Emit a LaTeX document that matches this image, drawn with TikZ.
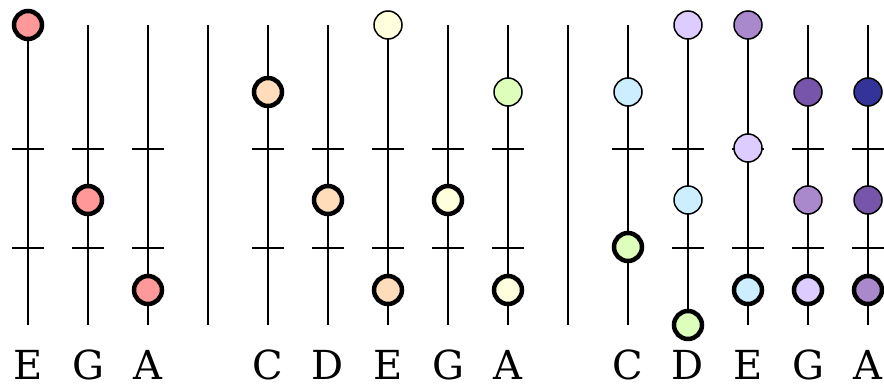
\documentclass[tikz,border=0pt]{standalone}
\usepackage{fontspec}
\setmainfont{DejaVu Serif}
\usepackage{tikz}
\usetikzlibrary{positioning, calc}

\definecolor{cRed}{HTML}{FF9999}
\definecolor{cPeach}{HTML}{FFDDBB}
\definecolor{cCream}{HTML}{FFFFDD}
\definecolor{cLime}{HTML}{DDFFBB}
\definecolor{cSky}{HTML}{CCEEFF}
\definecolor{cLilac}{HTML}{DDCCFF}
\definecolor{cMauve}{HTML}{AA88CC}
\definecolor{cPurple}{HTML}{7755AA}
\definecolor{cNavy}{HTML}{333399}

\tikzset{
  string/.style={line width=2pt},
  fret/.style={line width=2pt},
  dot/.style={draw, circle, line width=1.5pt, minimum size=28pt, inner sep=0pt},
  root/.style={dot, line width=4.5pt},
  lbl/.style={inner sep=0pt, font=\fontsize{40}{40}\selectfont}
}

\begin{document}
\begin{tikzpicture}[x=1pt, y=-1pt]
  \useasboundingbox (0,0) rectangle (884,385);
  % string ends
  \coordinate (s1t) at (28,25);   \coordinate (s1b) at (28,325);
  \coordinate (s2t) at (88,25);   \coordinate (s2b) at (88,325);
  \coordinate (s3t) at (148,25);  \coordinate (s3b) at (148,325);
  \coordinate (bar1t) at (208,25); \coordinate (bar1b) at (208,325);
  \coordinate (s4t) at (268,25);  \coordinate (s4b) at (268,325);
  \coordinate (s5t) at (328,25);  \coordinate (s5b) at (328,325);
  \coordinate (s6t) at (388,25);  \coordinate (s6b) at (388,325);
  \coordinate (s7t) at (448,25);  \coordinate (s7b) at (448,325);
  \coordinate (s8t) at (508,25);  \coordinate (s8b) at (508,325);
  \coordinate (bar2t) at (568,25); \coordinate (bar2b) at (568,325);
  \coordinate (s9t) at (628,25);  \coordinate (s9b) at (628,325);
  \coordinate (s10t) at (688,25); \coordinate (s10b) at (688,325);
  \coordinate (s11t) at (748,25); \coordinate (s11b) at (748,325);
  \coordinate (s12t) at (808,25); \coordinate (s12b) at (808,325);
  \coordinate (s13t) at (868,25); \coordinate (s13b) at (868,325);

  % strings and bars
  \draw[string] (s1t) -- (s1b);  \draw[string] (s2t) -- (s2b);  \draw[string] (s3t) -- (s3b);
  \draw[string] (bar1t) -- (bar1b);
  \draw[string] (s4t) -- (s4b);  \draw[string] (s5t) -- (s5b);  \draw[string] (s6t) -- (s6b);
  \draw[string] (s7t) -- (s7b);  \draw[string] (s8t) -- (s8b);
  \draw[string] (bar2t) -- (bar2b);
  \draw[string] (s9t) -- (s9b);  \draw[string] (s10t) -- (s10b); \draw[string] (s11t) -- (s11b);
  \draw[string] (s12t) -- (s12b); \draw[string] (s13t) -- (s13b);

  % frets
  \draw[fret] ($(s1t)+(-16,124)$) -- +(32,0) ($(s1t)+(-16,223)$) -- +(32,0);
  \draw[fret] ($(s2t)+(-16,124)$) -- +(32,0) ($(s2t)+(-16,223)$) -- +(32,0);
  \draw[fret] ($(s3t)+(-16,124)$) -- +(32,0) ($(s3t)+(-16,223)$) -- +(32,0);
  \draw[fret] ($(s4t)+(-16,124)$) -- +(32,0) ($(s4t)+(-16,223)$) -- +(32,0);
  \draw[fret] ($(s5t)+(-16,124)$) -- +(32,0) ($(s5t)+(-16,223)$) -- +(32,0);
  \draw[fret] ($(s6t)+(-16,124)$) -- +(32,0) ($(s6t)+(-16,223)$) -- +(32,0);
  \draw[fret] ($(s7t)+(-16,124)$) -- +(32,0) ($(s7t)+(-16,223)$) -- +(32,0);
  \draw[fret] ($(s8t)+(-16,124)$) -- +(32,0) ($(s8t)+(-16,223)$) -- +(32,0);
  \draw[fret] ($(s9t)+(-16,124)$) -- +(32,0) ($(s9t)+(-16,223)$) -- +(32,0);
  \draw[fret] ($(s10t)+(-16,124)$) -- +(32,0) ($(s10t)+(-16,223)$) -- +(32,0);
  \draw[fret] ($(s11t)+(-16,124)$) -- +(32,0) ($(s11t)+(-16,223)$) -- +(32,0);
  \draw[fret] ($(s12t)+(-16,124)$) -- +(32,0) ($(s12t)+(-16,223)$) -- +(32,0);
  \draw[fret] ($(s13t)+(-16,124)$) -- +(32,0) ($(s13t)+(-16,223)$) -- +(32,0);

  % first group
  \node[root, fill=cRed] (e1a) at (s1t) {};
  \node[root, fill=cRed] (g1a) at (88,200) {};
  \node[root, fill=cRed] (a1a) at (148,290) {};

  % second group
  \node[root, fill=cPeach] (c2a) at (268,92) {};
  \node[root, fill=cPeach] (d2a) at (328,200) {};
  \node[dot, fill=cCream] (e2a) at (s6t) {};
  \node[root, fill=cPeach] (e2b) at (388,290) {};
  \node[root, fill=cCream] (g2a) at (448,200) {};
  \node[dot, fill=cLime] (a2a) at (508,92) {};
  \node[root, fill=cCream] (a2b) at (508,290) {};

  % third group
  \node[dot, fill=cSky] (c3a) at (628,92) {};
  \node[root, fill=cLime] (c3b) at (628,247) {};
  \node[dot, fill=cLilac] (d3a) at (s10t) {};
  \node[dot, fill=cSky] (d3b) at (688,200) {};
  \node[root, fill=cLime] (d3c) at (s10b) {};
  \node[dot, fill=cMauve] (e3a) at (s11t) {};
  \node[dot, fill=cLilac] (e3b) at (748,148) {};
  \node[root, fill=cSky] (e3c) at (748,290) {};
  \node[dot, fill=cPurple] (g3a) at (808,92) {};
  \node[dot, fill=cMauve] (g3b) at (808,200) {};
  \node[root, fill=cLilac] (g3c) at (808,290) {};
  \node[dot, fill=cNavy] (a3a) at (868,92) {};
  \node[dot, fill=cPurple] (a3b) at (868,200) {};
  \node[root, fill=cMauve] (a3c) at (868,290) {};

  % labels
  \node[lbl] (l1) at (28,365) {E};
  \node[lbl] (l2) at (88,365) {G};
  \node[lbl] (l3) at (148,365) {A};
  \node[lbl] (l4) at (268,365) {C};
  \node[lbl] (l5) at (328,365) {D};
  \node[lbl] (l6) at (388,365) {E};
  \node[lbl] (l7) at (448,365) {G};
  \node[lbl] (l8) at (508,365) {A};
  \node[lbl] (l9) at (628,365) {C};
  \node[lbl] (l10) at (688,365) {D};
  \node[lbl] (l11) at (748,365) {E};
  \node[lbl] (l12) at (808,365) {G};
  \node[lbl] (l13) at (868,365) {A};
\end{tikzpicture}
\end{document}
